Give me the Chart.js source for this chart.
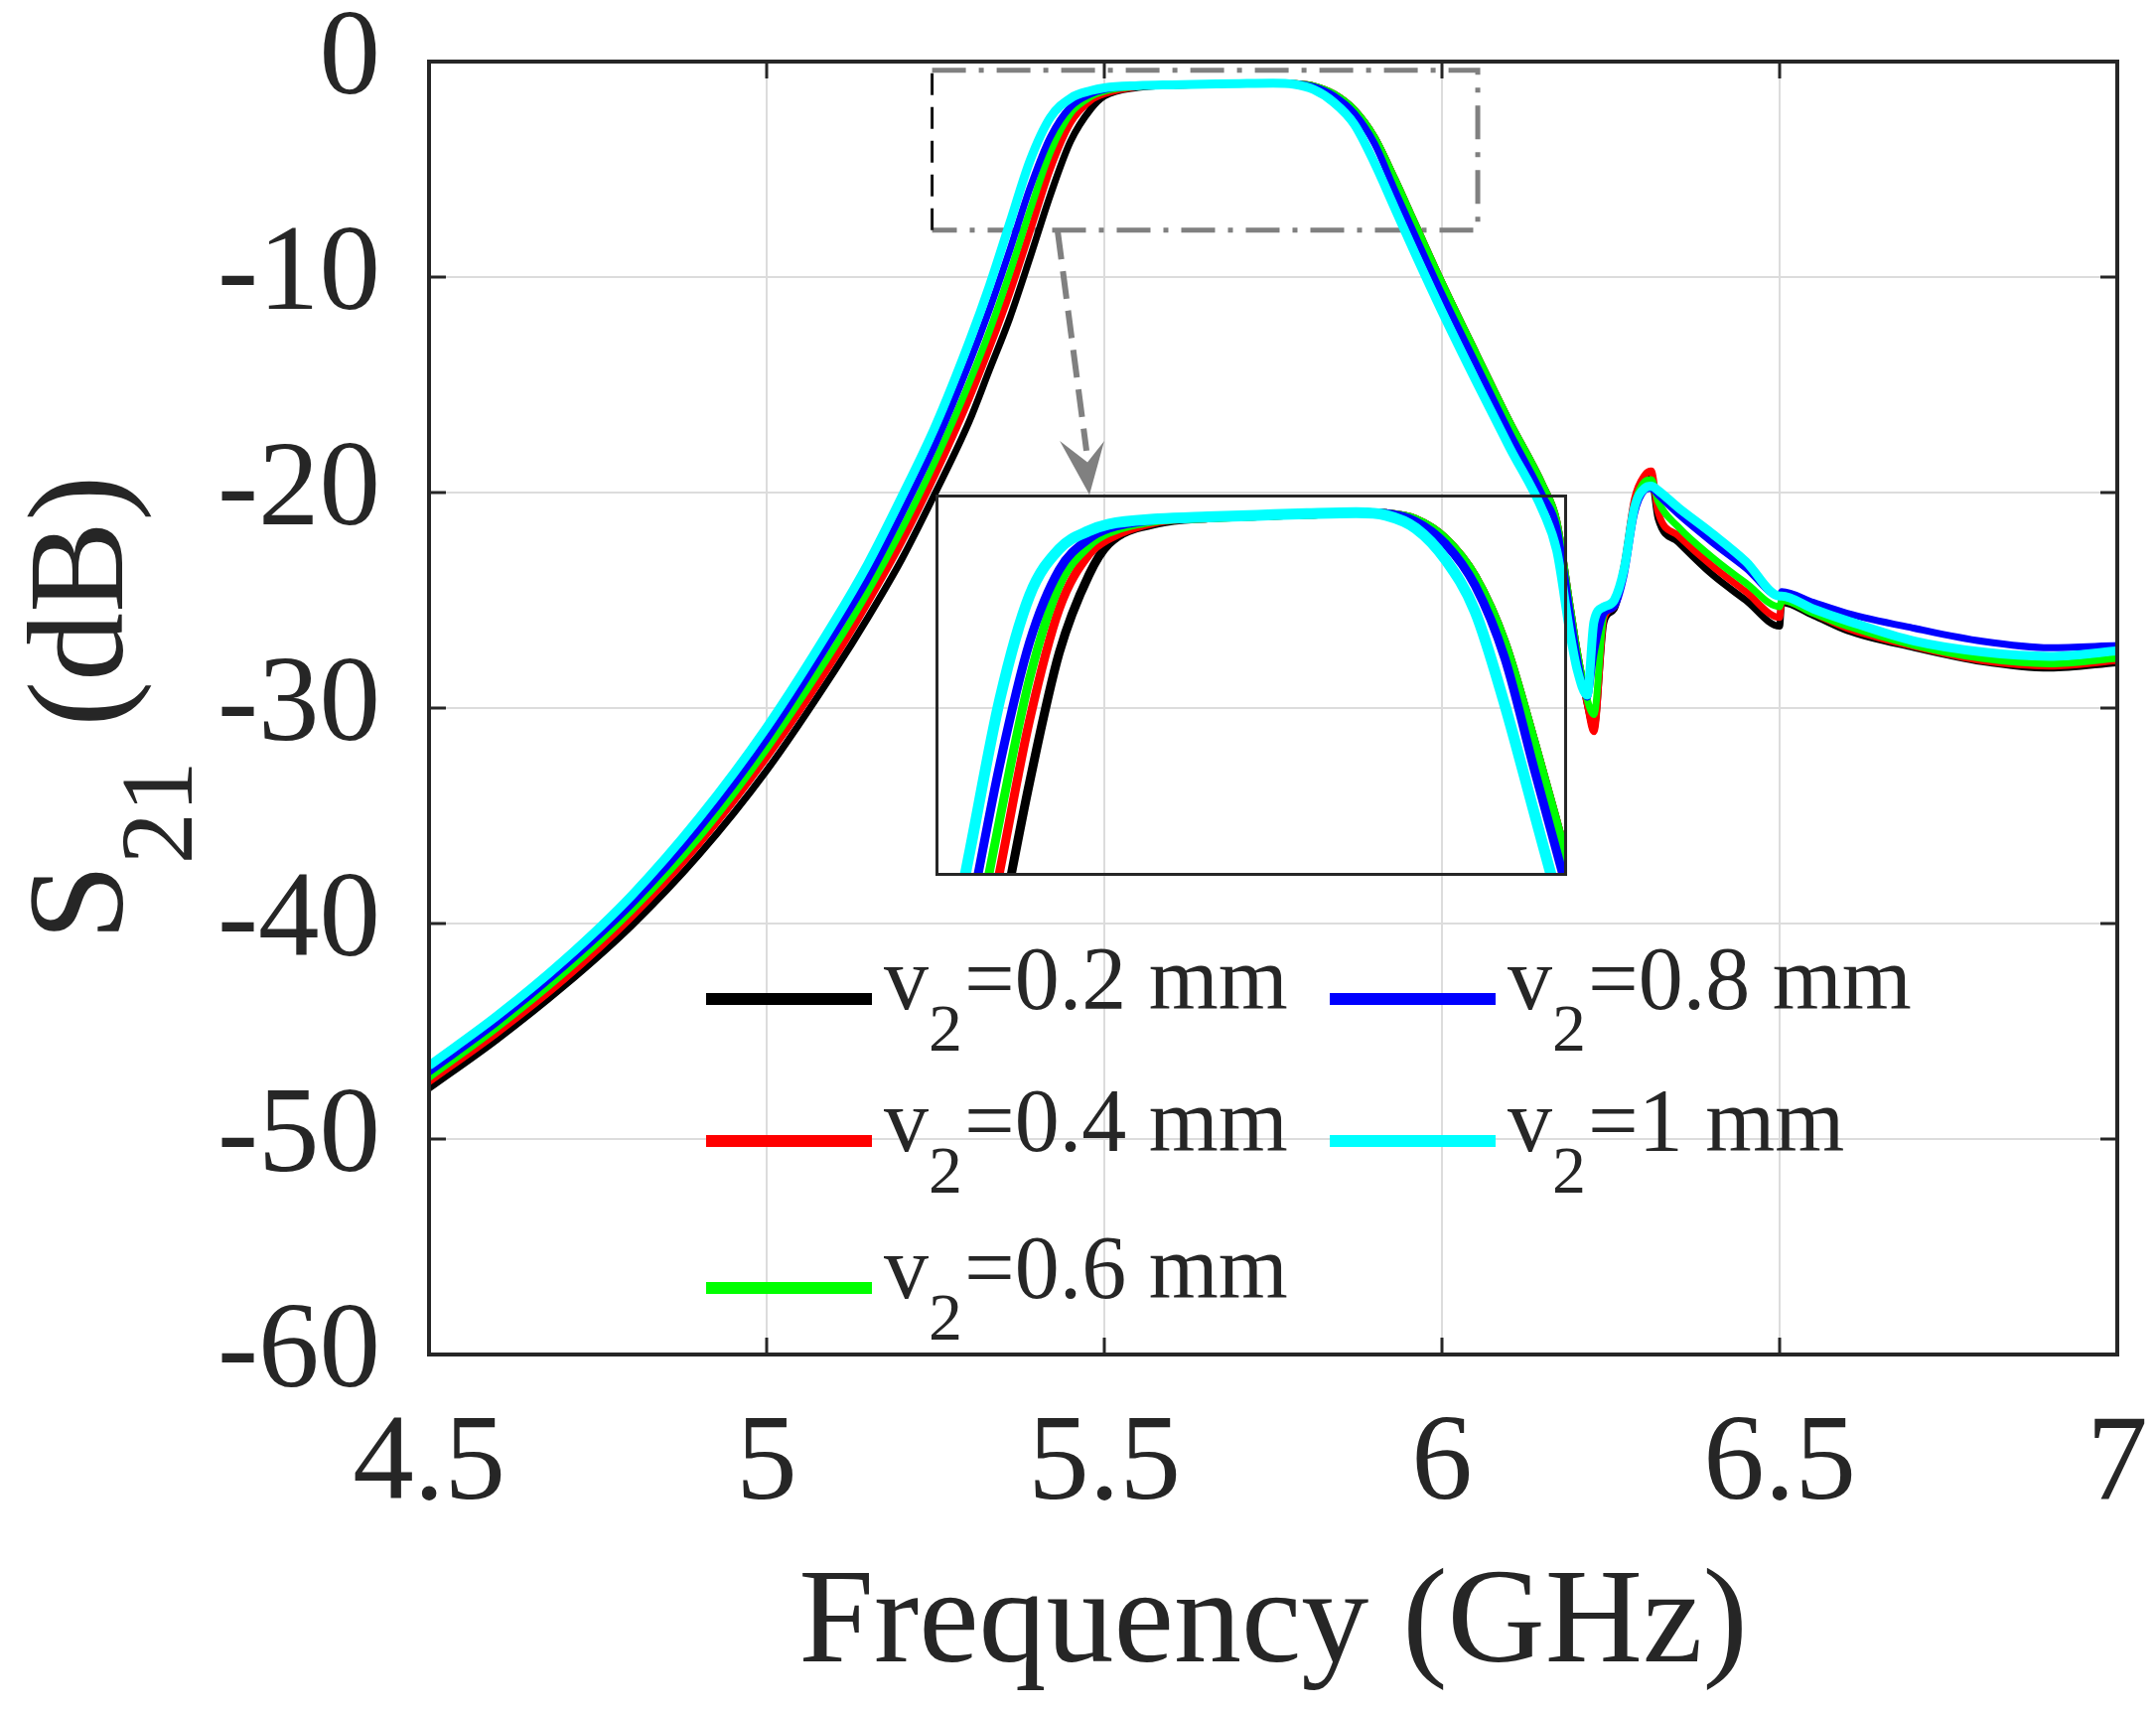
<!DOCTYPE html>
<html lang="en">
<head>
<meta charset="UTF-8">
<title>S21 vs frequency</title>
<script src="https://cdn.jsdelivr.net/npm/chart.js"></script>
<style>
  body { margin: 0; background: #fff; }
  #wrap { position: relative; width: 2171px; height: 1724px; }
  #main { position: absolute; left: 0; top: 0; }
  #inset { position: absolute; }
</style>
</head>
<body>
<div id="wrap">
  <canvas id="main" width="2171" height="1724"></canvas>
  <canvas id="inset"></canvas>
</div>
<script>
// frequency grid (GHz), shared by all curves
const freq = [4.5, 4.6, 4.7, 4.8, 4.9, 5.0, 5.1, 5.15, 5.2, 5.25, 5.3, 5.33, 5.36, 5.39, 5.42, 5.45, 5.48, 5.5,
  5.55, 5.6, 5.65, 5.7, 5.75, 5.78, 5.81, 5.84, 5.87, 5.9, 5.93, 5.96, 6.0, 6.05, 6.1, 6.15, 6.17, 6.19, 6.2,
  6.215, 6.225, 6.24, 6.255, 6.27, 6.285, 6.3, 6.31, 6.32, 6.35, 6.4, 6.45, 6.5, 6.503, 6.55, 6.6, 6.7, 6.8, 6.9, 7.0];

// S21 (dB) for each v2
const s21_02 = [-47.65, -45.4, -42.9, -40.1, -36.8, -32.9, -28.3, -25.8, -23.1, -20.0, -16.7, -14.3, -11.9, -9.1, -6.2, -3.7, -2.2, -1.6,
  -1.2, -1.1, -1.06, -1.03, -1.0, -1.02, -1.13, -1.5, -2.23, -3.5, -5.43, -7.5, -10.25, -13.5, -16.7, -19.7, -21.3, -25.3, -27.3,
  -29.8, -30.9, -26.0, -25.4, -23.4, -20.4, -19.4, -19.3, -21.2, -22.3, -23.8, -25.0, -26.2, -25.1, -25.7, -26.4, -27.2, -27.85, -28.15, -27.9];
const s21_04 = [-47.35, -45.1, -42.6, -39.7, -36.3, -32.3, -27.7, -25.1, -22.3, -19.15, -15.65, -13.3, -10.75, -7.9, -5.0, -2.85, -1.8, -1.5,
  -1.17, -1.1, -1.06, -1.03, -1.0, -1.02, -1.13, -1.5, -2.23, -3.5, -5.43, -7.5, -10.25, -13.5, -16.7, -19.7, -21.3, -25.3, -27.3,
  -29.8, -31.1, -25.8, -25.3, -23.3, -20.3, -19.2, -19.0, -20.9, -22.0, -23.4, -24.6, -25.8, -25.0, -25.6, -26.3, -27.15, -27.8, -28.05, -27.8];
const s21_06 = [-47.15, -44.85, -42.3, -39.4, -36.0, -31.9, -27.2, -24.6, -21.7, -18.5, -14.9, -12.5, -9.8, -6.9, -4.2, -2.4, -1.63, -1.38,
  -1.15, -1.1, -1.06, -1.03, -1.0, -1.02, -1.13, -1.5, -2.23, -3.5, -5.43, -7.5, -10.25, -13.5, -16.7, -19.7, -21.3, -25.3, -27.3,
  -29.6, -30.3, -25.6, -25.2, -23.4, -20.6, -19.5, -19.4, -20.4, -21.6, -23.0, -24.2, -25.3, -25.0, -25.6, -26.2, -27.1, -27.7, -27.95, -27.7];
const s21_08 = [-46.9, -44.6, -42.0, -39.1, -35.6, -31.45, -26.6, -24.0, -21.0, -17.75, -14.0, -11.5, -8.75, -5.85, -3.5, -2.1, -1.5, -1.3,
  -1.13, -1.09, -1.05, -1.02, -1.0, -1.02, -1.17, -1.6, -2.4, -3.8, -5.96, -8.06, -10.8, -14.0, -17.2, -20.2, -21.6, -25.6, -27.6,
  -29.5, -27.5, -25.6, -25.3, -23.8, -21.0, -19.9, -19.8, -20.1, -21.0, -22.3, -23.5, -24.8, -24.6, -25.1, -25.6, -26.3, -26.9, -27.2, -27.1];
const s21_10 = [-46.6, -44.3, -41.7, -38.7, -35.1, -30.9, -26.0, -23.3, -20.2, -16.9, -13.0, -10.4, -7.5, -4.6, -2.6, -1.7, -1.35, -1.22,
  -1.12, -1.08, -1.05, -1.02, -1.0, -1.05, -1.3, -1.9, -2.9, -4.7, -6.8, -8.9, -11.6, -14.8, -17.9, -20.9, -22.7, -26.6, -28.2,
  -29.4, -26.0, -25.3, -25.0, -23.5, -20.7, -19.8, -19.7, -19.9, -20.7, -21.9, -23.2, -24.8, -24.8, -25.4, -25.95, -26.9, -27.4, -27.6, -27.35];

const seriesNames = ['0.2', '0.4', '0.6', '0.8', '1'];
const seriesValues = [s21_02, s21_04, s21_06, s21_08, s21_10];
const seriesColors = ['#000000', '#ff0000', '#00ff00', '#0000ff', '#00ffff'];

const xTicks = [4.5, 5, 5.5, 6, 6.5, 7];
const yTicks = [-60, -50, -40, -30, -20, -10, 0];

// zoom window shown by the dash-dot box, and where the inset sits (in main axis units)
const zoomBox = { x0: 5.245, x1: 6.053, y0: -7.82, y1: -0.4 };
const insetPlace = { x0: 5.25, x1: 6.185, y0: -37.8, y1: -20.1 };
const insetRange = { x0: 5.325, x1: 5.963, y0: -8, y1: -0.65 };

const INK = '#262626';
const SERIF = '"Liberation Serif", "Times New Roman", serif';

function makeDatasets(wide) {
  return seriesValues.map((vals, i) => ({
    label: 'v2=' + seriesNames[i] + ' mm',
    data: freq.map((f, j) => ({ x: f, y: vals[j] })),
    borderColor: seriesColors[i],
    borderWidth: (i === 4 ? 9 : 7) + (wide ? 2 : 0),
    pointRadius: 0,
    cubicInterpolationMode: 'monotone',
    clip: 0,
    order: 5 - i
  }));
}

const decor = {
  id: 'decor',
  beforeDatasetsDraw(chart) {
    const { ctx, scales: { x, y } } = chart;
    const L = x.getPixelForValue(zoomBox.x0), R = x.getPixelForValue(zoomBox.x1);
    const T = y.getPixelForValue(zoomBox.y1), B = y.getPixelForValue(zoomBox.y0);
    ctx.save();
    // dash-dot zoom box
    ctx.strokeStyle = '#808080';
    ctx.lineWidth = 5;
    ctx.setLineDash([34, 13, 5, 13]);
    ctx.beginPath();
    ctx.moveTo(L, T); ctx.lineTo(R, T); ctx.lineTo(R, B); ctx.lineTo(L, B);
    ctx.stroke();
    ctx.strokeStyle = '#111';
    ctx.lineWidth = 3;
    ctx.setLineDash([22, 12]);
    ctx.beginPath();
    ctx.moveTo(L, B); ctx.lineTo(L, T);
    ctx.stroke();

    // dashed arrow down to the inset
    const ax0 = x.getPixelForValue(5.431), ay0 = y.getPixelForValue(-7.9);
    const tipX = x.getPixelForValue(5.478), tipY = y.getPixelForValue(insetPlace.y1);
    const headY = y.getPixelForValue(-17.6);
    ctx.strokeStyle = '#808080';
    ctx.lineWidth = 6;
    ctx.setLineDash([28, 12]);
    ctx.beginPath();
    ctx.moveTo(ax0, ay0); ctx.lineTo(tipX - 3, headY + 10);
    ctx.stroke();
    ctx.setLineDash([]);
    ctx.fillStyle = '#808080';
    ctx.beginPath();
    ctx.moveTo(tipX, tipY);
    ctx.lineTo(x.getPixelForValue(5.434), headY);
    ctx.lineTo(tipX - 2, y.getPixelForValue(-18.6));
    ctx.lineTo(x.getPixelForValue(5.5), headY);
    ctx.closePath();
    ctx.fill();
    ctx.restore();
  },
  afterDraw(chart) {
    const { ctx, chartArea: a, scales: { x, y } } = chart;
    ctx.save();
    // inward tick marks on all four sides
    ctx.strokeStyle = INK;
    ctx.lineWidth = 3;
    const tl = 17;
    ctx.beginPath();
    xTicks.forEach(v => {
      const px = x.getPixelForValue(v);
      ctx.moveTo(px, a.bottom); ctx.lineTo(px, a.bottom - tl);
      ctx.moveTo(px, a.top); ctx.lineTo(px, a.top + tl);
    });
    yTicks.forEach(v => {
      const py = y.getPixelForValue(v);
      ctx.moveTo(a.left, py); ctx.lineTo(a.left + tl, py);
      ctx.moveTo(a.right, py); ctx.lineTo(a.right - tl, py);
    });
    ctx.stroke();
    // axes box
    ctx.lineWidth = 4;
    ctx.strokeRect(a.left, a.top, a.right - a.left, a.bottom - a.top);

    // axis titles
    ctx.fillStyle = INK;
    ctx.textBaseline = 'alphabetic';
    ctx.textAlign = 'center';
    ctx.font = '136px ' + SERIF;
    ctx.fillText('Frequency (GHz)', (a.left + a.right) / 2, a.bottom + 309);

    ctx.save();
    ctx.translate(a.left - 309, (a.top + a.bottom) / 2);
    ctx.rotate(-Math.PI / 2);
    ctx.textAlign = 'left';
    const big = '138px ' + SERIF, small = '104px ' + SERIF;
    ctx.font = big; const wS = ctx.measureText('S').width; const wR = ctx.measureText(' (dB)').width;
    ctx.font = small; const w21 = ctx.measureText('21').width;
    let tx = -(wS + w21 + wR) / 2;
    ctx.font = big; ctx.fillText('S', tx, 0); tx += wS;
    ctx.font = small; ctx.fillText('21', tx, 70); tx += w21;
    ctx.font = big; ctx.fillText(' (dB)', tx, 0);
    ctx.restore();

    // legend (two columns, no frame)
    const cols = [a.left + 279, a.left + 907];
    const rows = [a.top + 944, a.top + 1087, a.top + 1235];
    const slots = [[0, 0], [0, 1], [0, 2], [1, 0], [1, 1]];
    seriesNames.forEach((name, i) => {
      const lx = cols[slots[i][0]], ly = rows[slots[i][1]];
      ctx.strokeStyle = seriesColors[i];
      ctx.lineWidth = 12;
      ctx.beginPath();
      ctx.moveTo(lx, ly); ctx.lineTo(lx + 167, ly);
      ctx.stroke();
      let t = lx + 167 + 12;
      const base = ly + 10;
      ctx.fillStyle = INK;
      ctx.textAlign = 'left';
      ctx.font = '90px ' + SERIF;
      ctx.fillText('v', t, base); t += ctx.measureText('v').width;
      ctx.font = '68px ' + SERIF;
      ctx.fillText('2', t, base + 42); t += ctx.measureText('2').width + 2;
      ctx.font = '90px ' + SERIF;
      ctx.fillText('=' + name + ' mm', t, base);
    });
    ctx.restore();
  }
};

// invisible tick marks keep the label gap out of the scale padding sums
const tickFont = { family: SERIF, size: 123, lineHeight: 1 };

const mainChart = new Chart(document.getElementById('main'), {
  type: 'line',
  data: { datasets: makeDatasets(false) },
  options: {
    responsive: false,
    animation: false,
    devicePixelRatio: 1,
    layout: { padding: { top: 62, right: 39, left: 0, bottom: 0 } },
    plugins: { legend: { display: false }, tooltip: { enabled: false } },
    scales: {
      x: {
        type: 'linear',
        min: 4.5,
        max: 7,
        afterFit: s => { s.height = 360; },
        afterBuildTicks: s => { s.ticks = xTicks.map(v => ({ value: v })); },
        ticks: { padding: 0, maxRotation: 0, color: INK, font: tickFont, callback: v => String(v) },
        grid: { color: '#dcdcdc', lineWidth: 2, drawTicks: true, tickLength: 51, tickColor: 'rgba(0,0,0,0)' },
        border: { display: false }
      },
      y: {
        type: 'linear',
        min: -60,
        max: 0,
        afterFit: s => { s.width = 432; },
        afterBuildTicks: s => { s.ticks = yTicks.map(v => ({ value: v })); },
        ticks: { padding: 0, color: INK, font: tickFont, callback: v => String(v) },
        grid: { color: '#dcdcdc', lineWidth: 2, drawTicks: true, tickLength: 49, tickColor: 'rgba(0,0,0,0)' },
        border: { display: false }
      }
    }
  },
  plugins: [decor]
});

// place the inset over the main axes
const sx = mainChart.scales.x, sy = mainChart.scales.y;
const insL = Math.round(sx.getPixelForValue(insetPlace.x0));
const insR = Math.round(sx.getPixelForValue(insetPlace.x1));
const insT = Math.round(sy.getPixelForValue(insetPlace.y1));
const insB = Math.round(sy.getPixelForValue(insetPlace.y0));
const insetCanvas = document.getElementById('inset');
insetCanvas.width = insR - insL;
insetCanvas.height = insB - insT;
insetCanvas.style.left = insL + 'px';
insetCanvas.style.top = insT + 'px';

const insetFrame = {
  id: 'insetFrame',
  afterDraw(chart) {
    const { ctx, chartArea: a } = chart;
    ctx.save();
    ctx.strokeStyle = INK;
    ctx.lineWidth = 3;
    ctx.strokeRect(a.left + 1.5, a.top + 1.5, a.right - a.left - 3, a.bottom - a.top - 3);
    ctx.restore();
  }
};

new Chart(insetCanvas, {
  type: 'line',
  data: { datasets: makeDatasets(true) },
  options: {
    responsive: false,
    animation: false,
    devicePixelRatio: 1,
    layout: { padding: 0 },
    plugins: { legend: { display: false }, tooltip: { enabled: false } },
    scales: {
      x: { type: 'linear', display: false, min: insetRange.x0, max: insetRange.x1 },
      y: { type: 'linear', display: false, min: insetRange.y0, max: insetRange.y1 }
    }
  },
  plugins: [insetFrame]
});
</script>
</body>
</html>
